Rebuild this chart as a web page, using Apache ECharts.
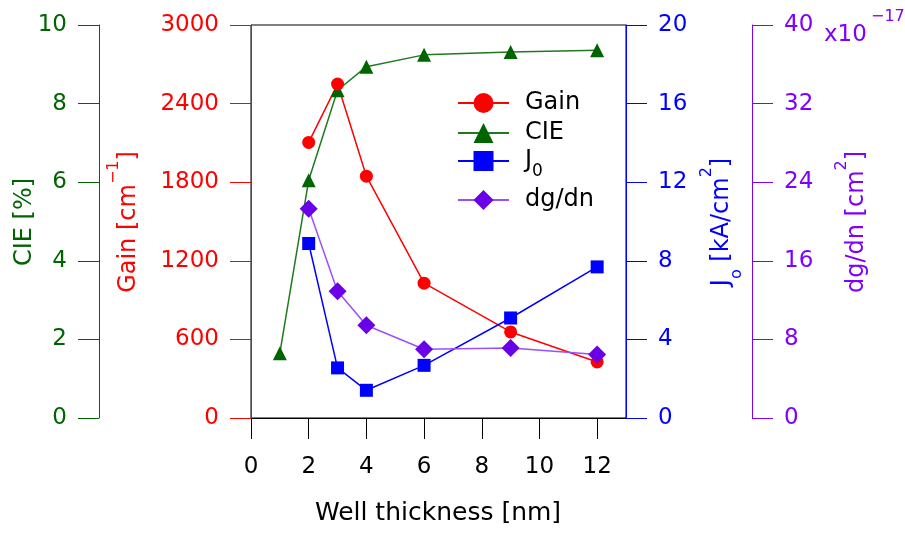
<!DOCTYPE html>
<html>
<head>
<meta charset="utf-8">
<script src="https://cdn.jsdelivr.net/npm/echarts@6/dist/echarts.min.js"></script>
<style>
html,body{margin:0;padding:0;background:#fff}
#chart{width:905px;height:534px}
</style>
</head>
<body>
<div id="chart"></div>
<script>
// Well thickness sweep [nm]
const thickness = [2, 3, 4, 6, 9, 12];
const cieThickness = [1, 2, 3, 4, 6, 9, 12];
// Measured / computed quantities
const gain = [2104, 2549, 1846, 1029, 657, 428];          // cm^-1
const cie = [1.65, 6.05, 8.34, 8.94, 9.24, 9.31, 9.36];   // %
const j0 = [8.88, 2.55, 1.41, 2.68, 5.09, 7.69];          // kA/cm^2
const dgdn = [21.3, 12.9, 9.44, 7.0, 7.13, 6.46];         // x1e-17 cm^2
const xTicks = [0, 2, 4, 6, 8, 10, 12];

const FONT = '"DejaVu Sans", "Noto Sans", sans-serif';
const RED = '#ff0000', GREEN = '#006400', BLUE = '#0000ff', PURPLE = '#7f00ff';
const DG_MARK = '#6a00e8', DG_LINE = '#9a50ff', CIE_LINE = '#1f7a1f';

const pairs = (xs, ys) => xs.map((x, i) => [x, ys[i]]);

function yAxisOf(color, max, interval, position, offset) {
  return {
    type: 'value', min: 0, max: max, interval: interval,
    position: position, offset: offset,
    axisLine: { show: true, onZero: false, lineStyle: { color: color, width: 1 } },
    axisTick: { show: true, inside: false, length: 21, lineStyle: { color: color, width: 1 } },
    axisLabel: { color: color, fontSize: 23, fontFamily: FONT, margin: 32, formatter: v => String(v) },
    splitLine: { show: false }
  };
}

function legendOf(name, top) {
  return {
    data: [name], left: 457, top: top, orient: 'vertical',
    itemWidth: 51, itemHeight: 25, padding: 0, selectedMode: false,
    formatter: n => n === 'J0' ? '{m|J}{sub|0}' : n,
    textStyle: {
      color: '#000', fontSize: 24, fontFamily: FONT, padding: [0, 0, 0, 11],
      rich: {
        m: { fontSize: 24, fontFamily: FONT, color: '#000', lineHeight: 38, verticalAlign: 'middle' },
        sub: { fontSize: 17, fontFamily: FONT, color: '#000', lineHeight: 38, verticalAlign: 'bottom' }
      }
    }
  };
}

function rotatedTitle(x, y, text, color, rich) {
  return {
    type: 'text', x: x, y: y, rotation: Math.PI / 2,
    style: {
      text: text, fill: color, fontSize: 24, fontFamily: FONT,
      align: 'center', verticalAlign: 'middle', rich: rich
    }
  };
}

function supRich(color) {
  return {
    m: { fontSize: 24, fontFamily: FONT, fill: color, color: color, lineHeight: 46, verticalAlign: 'middle' },
    sup: { fontSize: 16, fontFamily: FONT, fill: color, color: color, lineHeight: 46, verticalAlign: 'top' },
    sub: { fontSize: 16, fontFamily: FONT, fill: color, color: color, lineHeight: 46, verticalAlign: 'bottom' }
  };
}

const chart = echarts.init(document.getElementById('chart'), null, { renderer: 'canvas' });

chart.setOption({
  animation: false,
  backgroundColor: '#fff',
  grid: { left: 251, top: 25, width: 375, height: 393, show: true, borderColor: '#000', borderWidth: 1, backgroundColor: 'transparent' },
  xAxis: {
    type: 'value', min: 0, max: 13, interval: 2,
    axisLine: { show: true, onZero: false, lineStyle: { color: '#000', width: 1 } },
    axisTick: { show: true, inside: false, length: 21, customValues: xTicks, lineStyle: { color: '#000' } },
    axisLabel: { color: '#000', fontSize: 23, fontFamily: FONT, margin: 38, customValues: xTicks },
    splitLine: { show: false }
  },
  yAxis: [
    yAxisOf(RED, 3000, 600, 'left', 0),
    yAxisOf(GREEN, 10, 2, 'left', 152),
    yAxisOf(BLUE, 20, 4, 'right', 0),
    yAxisOf(PURPLE, 40, 8, 'right', 126)
  ],
  legend: [
    legendOf('Gain', 91),
    legendOf('CIE', 121),
    legendOf('J0', 149),
    legendOf('dg/dn', 188)
  ],
  series: [
    {
      name: 'CIE', type: 'line', yAxisIndex: 1, data: pairs(cieThickness, cie),
      symbol: 'triangle', symbolSize: 14,
      lineStyle: { color: CIE_LINE, width: 1.5 }, itemStyle: { color: GREEN }
    },
    {
      name: 'Gain', type: 'line', yAxisIndex: 0, data: pairs(thickness, gain),
      symbol: 'circle', symbolSize: 13,
      lineStyle: { color: RED, width: 1.5 }, itemStyle: { color: RED }
    },
    {
      name: 'J0', type: 'line', yAxisIndex: 2, data: pairs(thickness, j0),
      symbol: 'rect', symbolSize: 13,
      lineStyle: { color: BLUE, width: 1.5 }, itemStyle: { color: BLUE }
    },
    {
      name: 'dg/dn', type: 'line', yAxisIndex: 3, data: pairs(thickness, dgdn),
      symbol: 'diamond', symbolSize: 18,
      lineStyle: { color: DG_LINE, width: 1.5 }, itemStyle: { color: DG_MARK }
    }
  ],
  graphic: [
    rotatedTitle(25, 222, '{m|CIE [%]}', GREEN, supRich(GREEN)),
    rotatedTitle(129, 222, '{m|Gain [cm}{sup|−1}{m|]}', RED, supRich(RED)),
    rotatedTitle(722, 222, '{m|J}{sub|o}{m| [kA/cm}{sup|2}{m|]}', BLUE, supRich(BLUE)),
    rotatedTitle(857, 222, '{m|dg/dn [cm}{sup|2}{m|]}', PURPLE, supRich(PURPLE)),
    {
      type: 'text', x: 824, y: 35,
      style: { text: 'x10', fill: PURPLE, fontSize: 23, fontFamily: FONT, align: 'left', verticalAlign: 'middle' }
    },
    {
      type: 'text', x: 871, y: 17,
      style: { text: '−17', fill: PURPLE, fontSize: 16, fontFamily: FONT, align: 'left', verticalAlign: 'middle' }
    },
    {
      type: 'text', x: 438, y: 513,
      style: { text: 'Well thickness [nm]', fill: '#000', fontSize: 25, fontFamily: FONT, align: 'center', verticalAlign: 'middle' }
    }
  ]
});
</script>
</body>
</html>
